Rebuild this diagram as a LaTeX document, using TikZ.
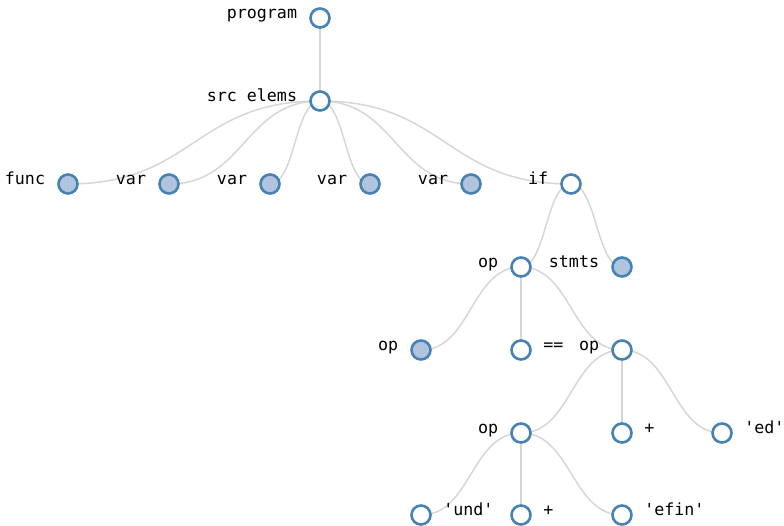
\documentclass[tikz,border=0pt]{standalone}
\usepackage{fontspec}
\setmonofont{DejaVu Sans Mono}
\usetikzlibrary{calc,backgrounds}
\definecolor{steel}{HTML}{4682B4}
\definecolor{lsteel}{HTML}{B0C4DE}
\definecolor{linkc}{HTML}{D6D6D6}
\newcommand\tlink[2]{\draw[treelink] let \p1=(#1.center), \p2=(#2.center) in (\p1) .. controls ({(\x1+\x2)/2},\y1) and ({(\x1+\x2)/2},\y2) .. (\p2);}
\begin{document}
\begin{tikzpicture}[x=0.75pt,y=-0.75pt,
  tnode/.style={circle,draw=steel,line width=1.95pt,minimum size=14.25pt,inner sep=0pt,fill=white},
  collapsed/.style={tnode,fill=lsteel},
  lbl/.style={inner sep=0pt,font=\ttfamily\fontsize{12.5}{14}\selectfont},
  lleft/.style={lbl,anchor=base east},
  lright/.style={lbl,anchor=base west},
  treelink/.style={draw=linkc,line width=1.125pt}]
\useasboundingbox (0,0) rectangle (784,525);
\node[tnode] (n1) at (320,18) {};
\node[tnode] (n2) at (320,101) {};
\node[collapsed] (n3) at (68,184) {};
\node[collapsed] (n4) at (169,184) {};
\node[collapsed] (n5) at (270,184) {};
\node[collapsed] (n6) at (370,184) {};
\node[collapsed] (n7) at (471,184) {};
\node[tnode] (n8) at (571,184) {};
\node[tnode] (n9) at (521,267) {};
\node[collapsed] (n10) at (622,267) {};
\node[collapsed] (n11) at (421,350) {};
\node[tnode] (n12) at (521,350) {};
\node[tnode] (n13) at (622,350) {};
\node[tnode] (n14) at (521,433) {};
\node[tnode] (n15) at (622,433) {};
\node[tnode] (n16) at (722,433) {};
\node[tnode] (n17) at (421,515) {};
\node[tnode] (n18) at (521,515) {};
\node[tnode] (n19) at (622,515) {};
% labels
\node[lleft] (l1) at ([xshift=-17pt,yshift=-0.4pt]n1.center) {program};
\node[lleft] (l2) at ([xshift=-17pt,yshift=-0.4pt]n2.center) {src elems};
\node[lleft] (l3) at ([xshift=-17pt,yshift=-0.4pt]n3.center) {func};
\node[lleft] (l4) at ([xshift=-17pt,yshift=-0.4pt]n4.center) {var};
\node[lleft] (l5) at ([xshift=-17pt,yshift=-0.4pt]n5.center) {var};
\node[lleft] (l6) at ([xshift=-17pt,yshift=-0.4pt]n6.center) {var};
\node[lleft] (l7) at ([xshift=-17pt,yshift=-0.4pt]n7.center) {var};
\node[lleft] (l8) at ([xshift=-17pt,yshift=-0.4pt]n8.center) {if};
\node[lleft] (l9) at ([xshift=-17pt,yshift=-0.4pt]n9.center) {op};
\node[lleft] (l10) at ([xshift=-17pt,yshift=-0.4pt]n10.center) {stmts};
\node[lleft] (l11) at ([xshift=-17pt,yshift=-0.4pt]n11.center) {op};
\node[lright] (l12) at ([xshift=16.5pt,yshift=-0.4pt]n12.center) {==};
\node[lleft] (l13) at ([xshift=-17pt,yshift=-0.4pt]n13.center) {op};
\node[lleft] (l14) at ([xshift=-17pt,yshift=-0.4pt]n14.center) {op};
\node[lright] (l15) at ([xshift=16.5pt,yshift=-0.4pt]n15.center) {+};
\node[lright] (l16) at ([xshift=16.5pt,yshift=-0.4pt]n16.center) {'ed'};
\node[lright] (l17) at ([xshift=16.5pt,yshift=-0.4pt]n17.center) {'und'};
\node[lright] (l18) at ([xshift=16.5pt,yshift=-0.4pt]n18.center) {+};
\node[lright] (l19) at ([xshift=16.5pt,yshift=-0.4pt]n19.center) {'efin'};
\begin{pgfonlayer}{background}
\tlink{n1}{n2}
\tlink{n2}{n3}\tlink{n2}{n4}\tlink{n2}{n5}\tlink{n2}{n6}\tlink{n2}{n7}\tlink{n2}{n8}
\tlink{n8}{n9}\tlink{n8}{n10}
\tlink{n9}{n11}\tlink{n9}{n12}\tlink{n9}{n13}
\tlink{n13}{n14}\tlink{n13}{n15}\tlink{n13}{n16}
\tlink{n14}{n17}\tlink{n14}{n18}\tlink{n14}{n19}
\end{pgfonlayer}
\end{tikzpicture}
\end{document}
